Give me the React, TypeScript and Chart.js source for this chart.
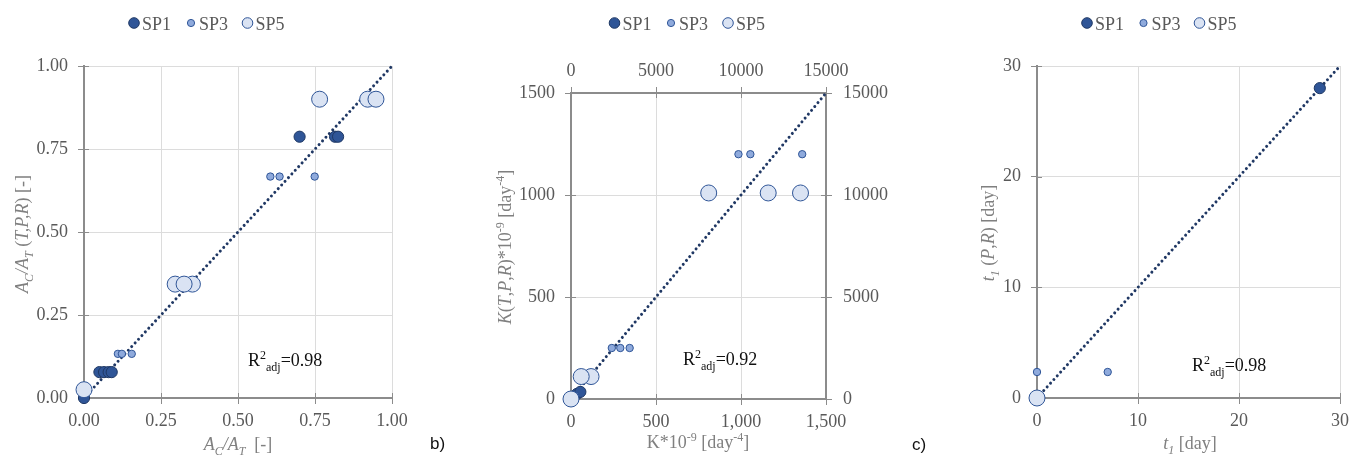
import React, { useEffect, useRef } from "react";
import { Chart, registerables } from "chart.js";

Chart.register(...registerables);

// ---------- data ----------
const seriesNames = ["SP1", "SP3", "SP5"];

// a) A_C/A_T
const areaSP1X = [0, 0.05, 0.065, 0.08, 0.09, 0.7, 0.815, 0.825];
const areaSP1Y = [0, 0.078, 0.078, 0.078, 0.078, 0.787, 0.787, 0.787];
const areaSP3X = [0.11, 0.123, 0.155, 0.605, 0.635, 0.749];
const areaSP3Y = [0.133, 0.133, 0.133, 0.667, 0.667, 0.667];
const areaSP5X = [0, 0.296, 0.352, 0.325, 0.765, 0.921, 0.948];
const areaSP5Y = [0.025, 0.343, 0.343, 0.343, 0.9, 0.9, 0.9];
const areaTicks = [0, 0.25, 0.5, 0.75, 1];
const areaTickLabels = ["0.00", "0.25", "0.50", "0.75", "1.00"];

// b) K*10^-9
const kSP1X = [0, 35, 55];
const kSP1Y = [0, 25, 35];
const kSP3X = [240, 290, 345, 985, 1055, 1360];
const kSP3Y = [250, 250, 250, 1200, 1200, 1200];
const kSP5X = [118, 60, 810, 1160, 1350, 0];
const kSP5Y = [110, 110, 1010, 1010, 1010, 0];
const kTicks = [0, 500, 1000, 1500];
const kBottomLabels = ["0", "500", "1,000", "1,500"];
const kLeftLabels = ["0", "500", "1000", "1500"];
const kSecondaryTicks = [0, 5000, 10000, 15000];
const kSecondaryLabels = ["0", "5000", "10000", "15000"];

// c) t1
const tSP1X = [28];
const tSP1Y = [28];
const tSP3X = [0, 7];
const tSP3Y = [2.35, 2.35];
const tSP5X = [0];
const tSP5Y = [0];
const tTicks = [0, 10, 20, 30];
const tTickLabels = ["0", "10", "20", "30"];

const r2Labels = ["0.98", "0.92", "0.98"];

// ---------- styles ----------
const SERIF = "'Liberation Serif'";
const SANS = "'Liberation Sans'";
const FONT_SIZE = 18;
const TICK_COLOR = "#595959";
const TITLE_COLOR = "#808080";
const AXIS_COLOR = "#8c8c8c";
const GRID_COLOR = "#dcdcdc";
const LINE_COLOR = "#203864";
const seriesFill = ["#2F5597", "#8FAADC", "#DAE3F3"];
const seriesBorder = ["#1F3864", "#2F5597", "#2F5597"];
const seriesRadius = [5.6, 3.7, 8];
const CANVAS_H = 455;

function waitForFonts(): Promise<unknown> {
  const fs: any = (document as any).fonts;
  const loads = fs && fs.load
    ? Promise.all([
        fs.load(`${FONT_SIZE}px ${SERIF}`),
        fs.load(`italic ${FONT_SIZE}px ${SERIF}`),
        fs.load(`17px ${SANS}`),
      ]).then(() => fs.ready)
    : Promise.resolve();
  return loads
    .catch(() => undefined)
    .then(() => new Promise((res) => requestAnimationFrame(() => requestAnimationFrame(res))));
}

type Seg = { t: string; i?: boolean; sub?: boolean; sup?: boolean };

function drawRich(
  ctx: CanvasRenderingContext2D,
  segs: Seg[],
  x: number,
  y: number,
  size: number,
  color: string,
  align: "center" | "left",
  rotate = false
) {
  const small = Math.round(size * 0.68);
  const fontFor = (s: Seg) =>
    `${s.i ? "italic " : ""}${s.sub || s.sup ? small : size}px ${SERIF}`;
  ctx.save();
  ctx.translate(x, y);
  if (rotate) ctx.rotate(-Math.PI / 2);
  let total = 0;
  const widths = segs.map((s) => {
    ctx.font = fontFor(s);
    const w = ctx.measureText(s.t).width;
    total += w;
    return w;
  });
  let cx = align === "center" ? -total / 2 : 0;
  ctx.fillStyle = color;
  ctx.textBaseline = "alphabetic";
  ctx.textAlign = "left";
  segs.forEach((s, k) => {
    ctx.font = fontFor(s);
    const dy = s.sub ? size * 0.3 : s.sup ? -size * 0.38 : 0;
    ctx.fillText(s.t, cx, dy);
    cx += widths[k];
  });
  ctx.restore();
}

function axis(
  position: "left" | "right" | "top" | "bottom",
  values: number[],
  labels: string[],
  size: number,
  padding: number,
  onChart: boolean
) {
  const horizontal = position === "top" || position === "bottom";
  return {
    type: "linear",
    position,
    axis: horizontal ? "x" : "y",
    min: values[0],
    max: values[values.length - 1],
    afterBuildTicks: (s: any) => {
      s.ticks = values.map((v) => ({ value: v }));
    },
    afterFit: (s: any) => {
      if (horizontal) s.height = size;
      else s.width = size;
    },
    ticks: {
      autoSkip: false,
      maxRotation: 0,
      minRotation: 0,
      padding,
      color: TICK_COLOR,
      font: { family: SERIF, size: FONT_SIZE },
      callback: (_v: any, i: number) => labels[i],
    },
    grid: {
      color: GRID_COLOR,
      lineWidth: 1,
      drawOnChartArea: onChart,
      drawTicks: true,
      tickLength: 6,
      tickColor: AXIS_COLOR,
      tickWidth: 1,
    },
    border: { display: true, color: AXIS_COLOR, width: 2 },
  };
}

interface PanelCfg {
  left: number;
  width: number;
  area: { l: number; t: number; r: number; b: number };
  xVals: number[];
  xLabels: string[];
  yVals: number[];
  yLabels: string[];
  x2?: { vals: number[]; labels: string[] };
  y2?: { vals: number[]; labels: string[] };
  series: { x: number[]; y: number[] }[];
  xTitle: Seg[];
  xTitlePos: [number, number];
  yTitle: Seg[];
  yTitlePos: [number, number];
  r2: string;
  r2Pos: [number, number];
  legendX: number[];
  tag?: { text: string; x: number; y: number };
}

const acat: Seg[] = [
  { t: "A", i: true },
  { t: "C", i: true, sub: true },
  { t: "/", i: true },
  { t: "A", i: true },
  { t: "T", i: true, sub: true },
];

const panels: PanelCfg[] = [
  {
    left: 0,
    width: 450,
    area: { l: 84, t: 66, r: 392, b: 398 },
    xVals: areaTicks,
    xLabels: areaTickLabels,
    yVals: areaTicks,
    yLabels: areaTickLabels,
    series: [
      { x: areaSP1X, y: areaSP1Y },
      { x: areaSP3X, y: areaSP3Y },
      { x: areaSP5X, y: areaSP5Y },
    ],
    xTitle: [...acat, { t: "  [-]" }],
    xTitlePos: [238, 450],
    yTitle: [...acat, { t: " (" }, { t: "T,P,R", i: true }, { t: ") [-]" }],
    yTitlePos: [28, 234],
    r2: r2Labels[0],
    r2Pos: [248, 366],
    legendX: [134, 191, 247.5],
    tag: { text: "b)", x: 430, y: 449 },
  },
  {
    left: 450,
    width: 450,
    area: { l: 571, t: 93, r: 826, b: 399 },
    xVals: kTicks,
    xLabels: kBottomLabels,
    yVals: kTicks,
    yLabels: kLeftLabels,
    x2: { vals: kSecondaryTicks, labels: kSecondaryLabels },
    y2: { vals: kSecondaryTicks, labels: kSecondaryLabels },
    series: [
      { x: kSP1X, y: kSP1Y },
      { x: kSP3X, y: kSP3Y },
      { x: kSP5X, y: kSP5Y },
    ],
    xTitle: [
      { t: "K*10" },
      { t: "-9", sup: true },
      { t: " [day" },
      { t: "-4", sup: true },
      { t: "]" },
    ],
    xTitlePos: [698, 448],
    yTitle: [
      { t: "K", i: true },
      { t: "(" },
      { t: "T", i: true },
      { t: "," },
      { t: "P", i: true },
      { t: "," },
      { t: "R", i: true },
      { t: ")*10" },
      { t: "-9", sup: true },
      { t: " [day" },
      { t: "-4", sup: true },
      { t: "]" },
    ],
    yTitlePos: [511, 247],
    r2: r2Labels[1],
    r2Pos: [683, 365],
    legendX: [614.5, 671, 728],
  },
  {
    left: 900,
    width: 455,
    area: { l: 1037, t: 66, r: 1343, b: 398 },
    xVals: tTicks,
    xLabels: tTickLabels,
    yVals: tTicks,
    yLabels: tTickLabels,
    series: [
      { x: tSP1X, y: tSP1Y },
      { x: tSP3X, y: tSP3Y },
      { x: tSP5X, y: tSP5Y },
    ],
    xTitle: [{ t: "t", i: true }, { t: "1", i: true, sub: true }, { t: " [day]" }],
    xTitlePos: [1190, 449],
    yTitle: [
      { t: "t", i: true },
      { t: "1", i: true, sub: true },
      { t: " (" },
      { t: "P", i: true },
      { t: "," },
      { t: "R", i: true },
      { t: ") [day]" },
    ],
    yTitlePos: [994, 233],
    r2: r2Labels[2],
    r2Pos: [1192, 371],
    legendX: [1087, 1143.5, 1199.5],
    tag: { text: "c)", x: 912, y: 450 },
  },
];

function decorations(cfg: PanelCfg) {
  const off = cfg.left;
  return {
    id: "decorations",
    beforeDatasetsDraw(chart: any) {
      // short inward tick marks so each tick crosses its axis line
      const ctx: CanvasRenderingContext2D = chart.ctx;
      const a = chart.chartArea;
      ctx.save();
      ctx.strokeStyle = AXIS_COLOR;
      ctx.lineWidth = 1;
      Object.values(chart.scales).forEach((s: any) => {
        s.ticks.forEach((_t: any, i: number) => {
          const p = Math.round(s.getPixelForTick(i)) + 0.5;
          ctx.beginPath();
          if (s.position === "bottom") {
            ctx.moveTo(p, a.bottom);
            ctx.lineTo(p, a.bottom - 5);
          } else if (s.position === "top") {
            ctx.moveTo(p, a.top);
            ctx.lineTo(p, a.top + 5);
          } else if (s.position === "left") {
            ctx.moveTo(a.left, p);
            ctx.lineTo(a.left + 5, p);
          } else {
            ctx.moveTo(a.right, p);
            ctx.lineTo(a.right - 5, p);
          }
          ctx.stroke();
        });
      });
      ctx.restore();
    },
    afterDraw(chart: any) {
      const ctx: CanvasRenderingContext2D = chart.ctx;
      // legend
      ctx.save();
      cfg.legendX.forEach((cx, k) => {
        const lx = cx - off;
        const r = k === 1 ? 3.6 : 5.3;
        ctx.beginPath();
        ctx.arc(lx, 23, r, 0, Math.PI * 2);
        ctx.fillStyle = seriesFill[k];
        ctx.fill();
        ctx.lineWidth = 1;
        ctx.strokeStyle = seriesBorder[k];
        ctx.stroke();
        ctx.fillStyle = TICK_COLOR;
        ctx.font = `${FONT_SIZE}px ${SERIF}`;
        ctx.textAlign = "left";
        ctx.textBaseline = "alphabetic";
        ctx.fillText(seriesNames[k], lx + 8, 29.5);
      });
      ctx.restore();
      // axis titles
      drawRich(ctx, cfg.xTitle, cfg.xTitlePos[0] - off, cfg.xTitlePos[1], FONT_SIZE, TITLE_COLOR, "center");
      drawRich(ctx, cfg.yTitle, cfg.yTitlePos[0] - off, cfg.yTitlePos[1], FONT_SIZE, TITLE_COLOR, "center", true);
      // fit statistic
      drawRich(
        ctx,
        [{ t: "R" }, { t: "2", sup: true }, { t: "adj", sub: true }, { t: "=" + cfg.r2 }],
        cfg.r2Pos[0] - off,
        cfg.r2Pos[1],
        FONT_SIZE,
        "#111111",
        "left"
      );
      if (cfg.tag) {
        ctx.save();
        ctx.font = `17px ${SANS}`;
        ctx.fillStyle = "#111111";
        ctx.textAlign = "left";
        ctx.textBaseline = "alphabetic";
        ctx.fillText(cfg.tag.text, cfg.tag.x - off, cfg.tag.y);
        ctx.restore();
      }
    },
  };
}

function Panel({ cfg }: { cfg: PanelCfg }) {
  const ref = useRef<HTMLCanvasElement | null>(null);
  useEffect(() => {
    let chart: Chart | null = null;
    let cancelled = false;
    waitForFonts().then(() => {
      if (cancelled || !ref.current) return;
      const a = cfg.area;
      const localL = a.l - cfg.left;
      const localR = a.r - cfg.left;
      const xMax = cfg.xVals[cfg.xVals.length - 1];
      const scales: any = {
        x: axis("bottom", cfg.xVals, cfg.xLabels, CANVAS_H - a.b, 6, true),
        y: axis("left", cfg.yVals, cfg.yLabels, localL, 10, true),
      };
      if (cfg.x2) scales.x2 = axis("top", cfg.x2.vals, cfg.x2.labels, a.t, 5, false);
      if (cfg.y2) scales.y2 = axis("right", cfg.y2.vals, cfg.y2.labels, cfg.width - localR, 11, false);
      const padding = {
        left: 0,
        top: cfg.x2 ? 0 : a.t,
        right: cfg.y2 ? 0 : cfg.width - localR,
        bottom: 0,
      };
      const datasets: any[] = cfg.series.map((s, k) => ({
        type: "scatter",
        label: seriesNames[k],
        data: s.x.map((x, j) => ({ x, y: s.y[j] })),
        pointRadius: seriesRadius[k],
        pointBackgroundColor: seriesFill[k],
        pointBorderColor: seriesBorder[k],
        pointBorderWidth: 1,
        xAxisID: "x",
        yAxisID: "y",
        clip: false,
        order: 2 - k,
      }));
      datasets.push({
        type: "line",
        label: "1:1",
        data: [
          { x: 0, y: 0 },
          { x: xMax, y: xMax },
        ],
        borderColor: LINE_COLOR,
        borderWidth: 3,
        borderDash: [0.01, 5],
        borderCapStyle: "round",
        pointRadius: 0,
        fill: false,
        xAxisID: "x",
        yAxisID: "y",
        clip: false,
        order: 3,
      });
      chart = new Chart(ref.current, {
        type: "scatter",
        data: { datasets },
        options: {
          responsive: false,
          animation: false,
          events: [],
          layout: { padding },
          plugins: { legend: { display: false }, tooltip: { enabled: false } },
          scales,
        } as any,
        plugins: [decorations(cfg)],
      });
    });
    return () => {
      cancelled = true;
      if (chart) chart.destroy();
    };
  }, [cfg]);
  return (
    <canvas
      ref={ref}
      width={cfg.width}
      height={CANVAS_H}
      style={{ position: "absolute", left: cfg.left, top: 0, width: cfg.width, height: CANVAS_H }}
    />
  );
}

export default function App() {
  return (
    <div
      style={{
        position: "absolute",
        left: 0,
        top: 0,
        width: 1355,
        height: CANVAS_H,
        background: "#ffffff",
        overflow: "hidden",
      }}
    >
      {/* off-screen text so the serif and sans faces are activated for canvas use */}
      <div
        aria-hidden="true"
        style={{ position: "absolute", left: -2000, top: 0, whiteSpace: "nowrap", fontSize: FONT_SIZE }}
      >
        <span style={{ fontFamily: "Liberation Serif" }}>{seriesNames.join(" ")}</span>
        <span style={{ fontFamily: "Liberation Serif", fontStyle: "italic" }}>{seriesNames.join(" ")}</span>
        <span style={{ fontFamily: "Liberation Sans" }}>{seriesNames.join(" ")}</span>
      </div>
      {panels.map((p, i) => (
        <Panel key={i} cfg={p} />
      ))}
    </div>
  );
}
